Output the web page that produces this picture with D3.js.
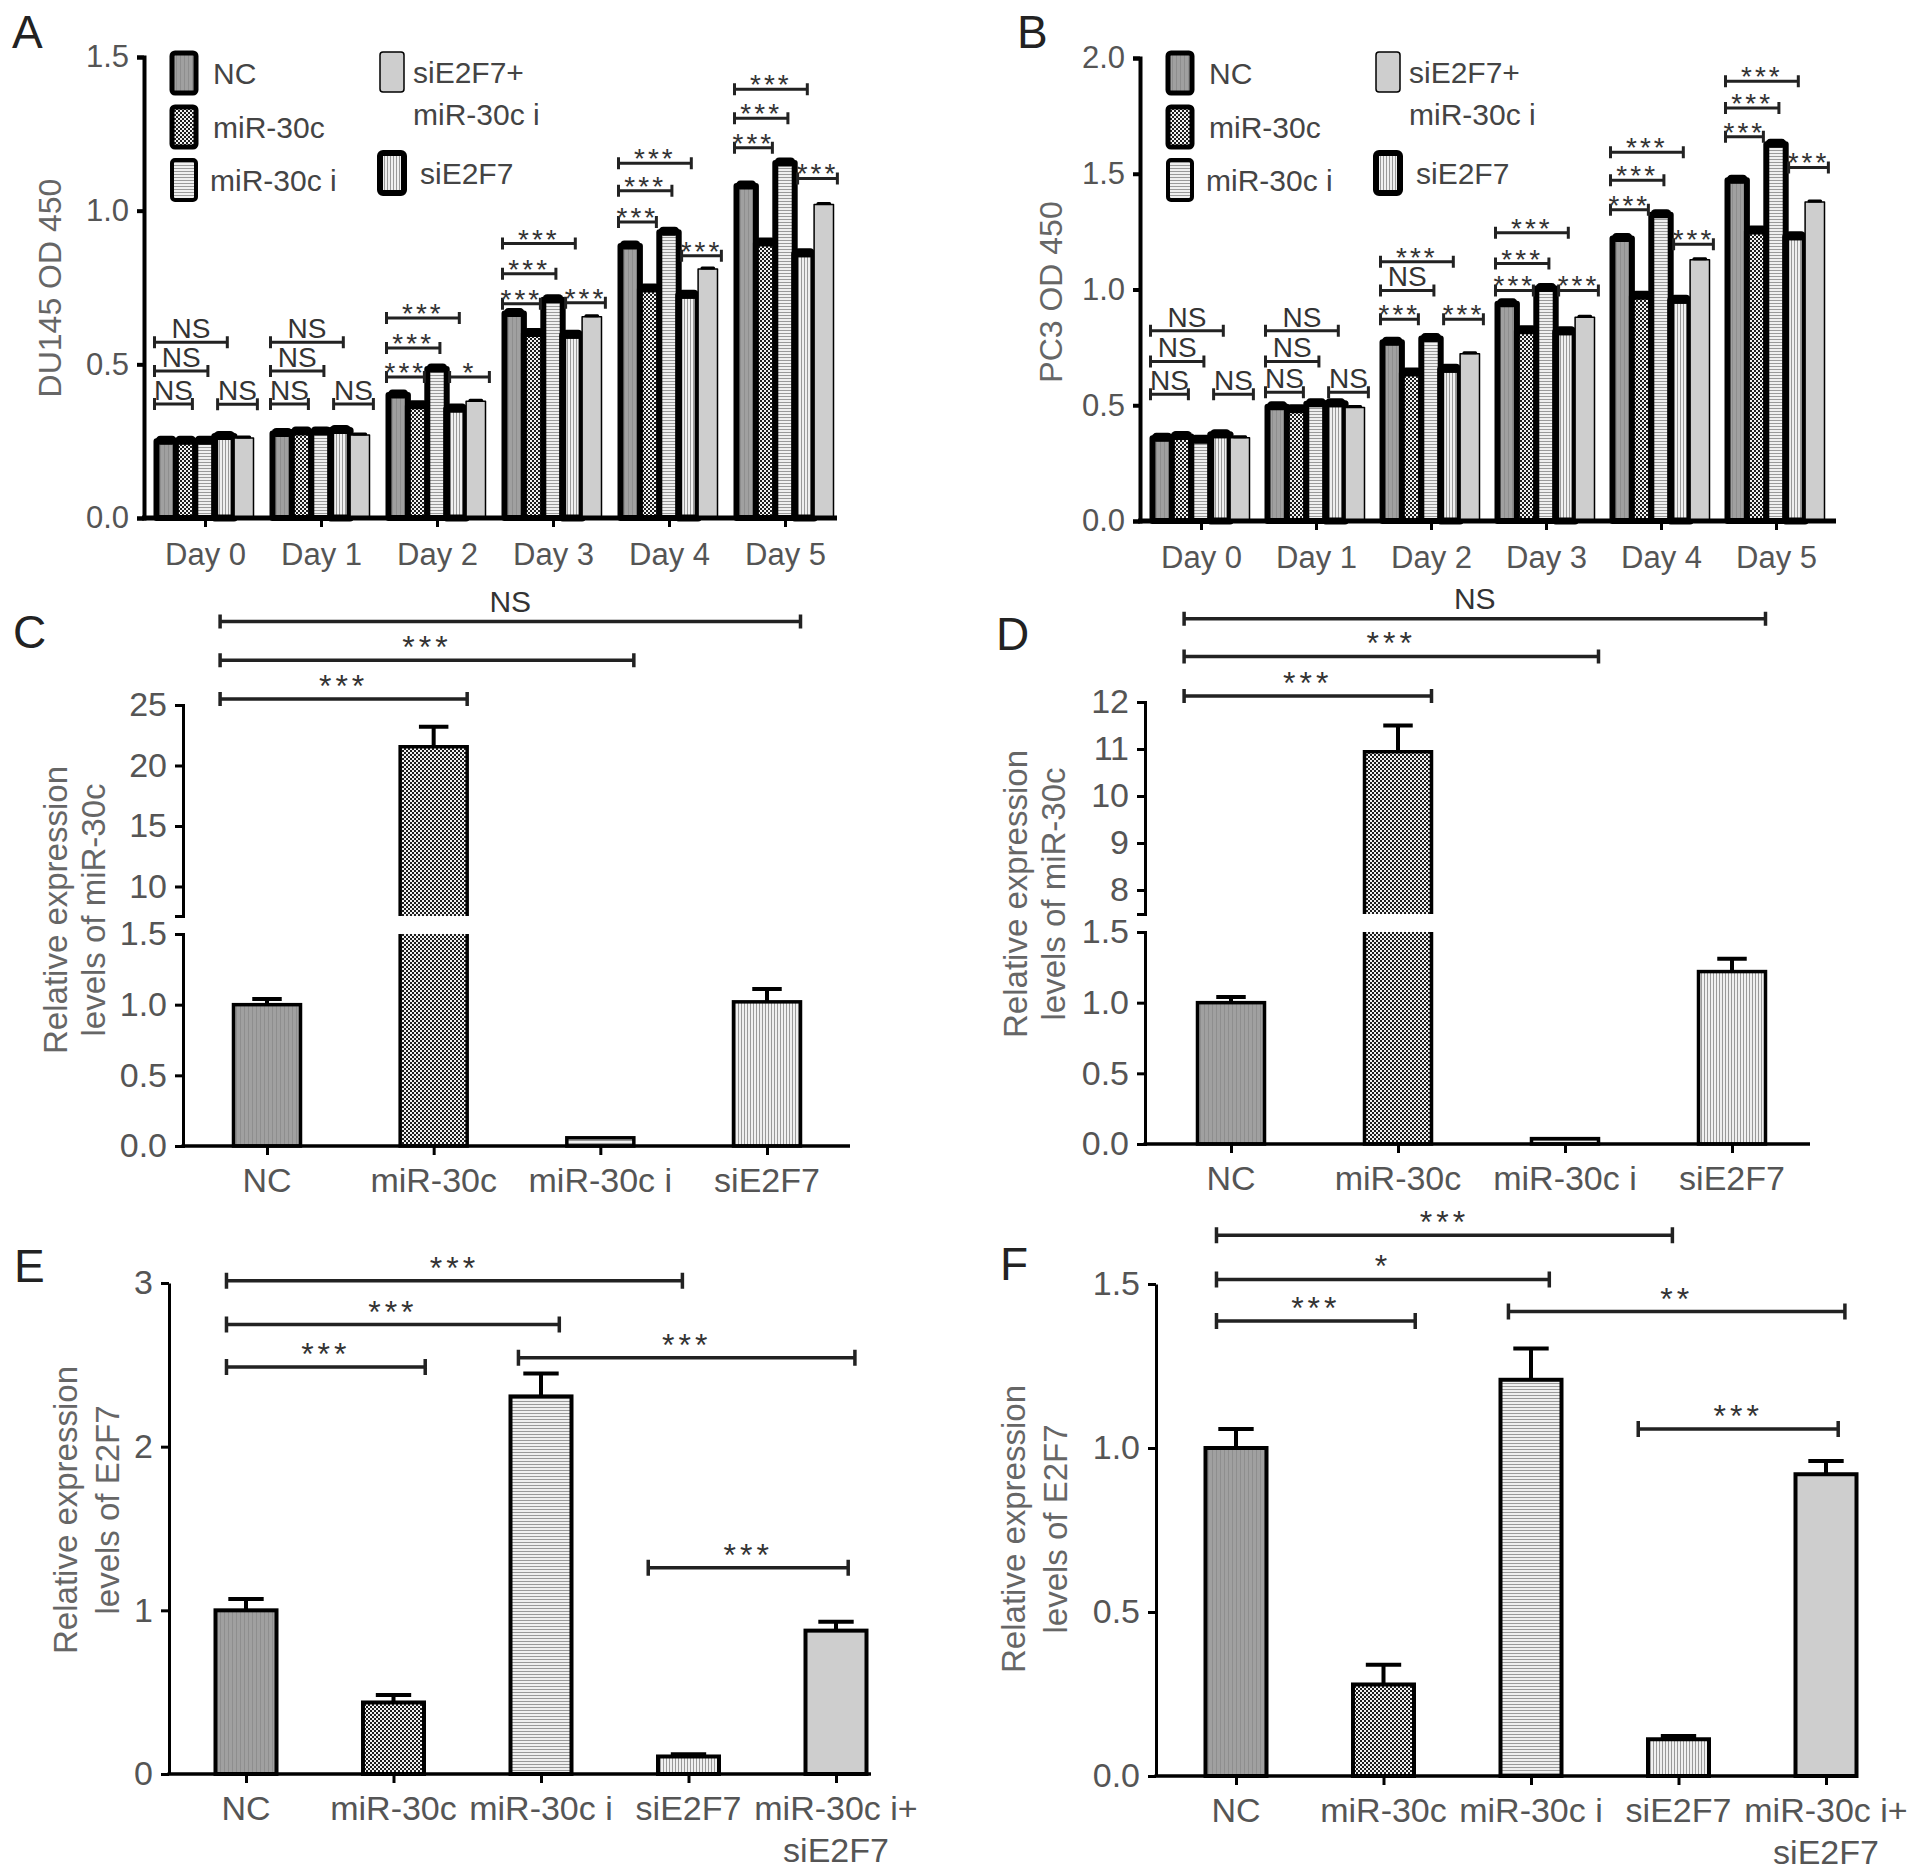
<!DOCTYPE html>
<html>
<head>
<meta charset="utf-8">
<script src="https://cdn.jsdelivr.net/npm/d3@7"></script>
<style>
  body { margin: 0; background: #fff; }
  text { font-family: "Liberation Sans", Arial, sans-serif; }
</style>
</head>
<body>
<svg id="fig"></svg>
<script>
// ---- data ----
const days = ["Day 0", "Day 1", "Day 2", "Day 3", "Day 4", "Day 5"];
const treatments = ["NC", "miR-30c", "miR-30c i", "siE2F7", "siE2F7+miR-30c i"];

// A: DU145 OD 450
const du145NC    = [0.25, 0.275, 0.40, 0.665, 0.885, 1.08];
const du145Mir   = [0.25, 0.28, 0.365, 0.60, 0.745, 0.895];
const du145Inh   = [0.25, 0.28, 0.485, 0.71, 0.93, 1.155];
const du145Si    = [0.265, 0.285, 0.355, 0.595, 0.725, 0.86];
const du145SiInh = [0.26, 0.27, 0.38, 0.655, 0.81, 1.02];
const du145BrLow  = [0.371, 0.371, 0.459, 0.697, 0.963, 1.205];
const du145BrMid  = [0.478, 0.478, 0.553, 0.795, 1.065, 1.301];
const du145BrTop  = [0.572, 0.572, 0.651, 0.893, 1.154, 1.395];
const du145BrLast = [0.370, 0.371, 0.459, 0.700, 0.853, 1.105];
const du145Sig = [["NS","NS","NS","NS"], ["NS","NS","NS","NS"], ["***","***","***","*"],
                  ["***","***","***","***"], ["***","***","***","***"], ["***","***","***","***"]];

// B: PC3 OD 450
const pc3NC    = [0.357, 0.493, 0.772, 0.938, 1.22, 1.472];
const pc3Mir   = [0.365, 0.481, 0.639, 0.822, 0.971, 1.253];
const pc3Inh   = [0.349, 0.506, 0.788, 1.004, 1.323, 1.627];
const pc3Si    = [0.373, 0.506, 0.656, 0.818, 0.954, 1.228];
const pc3SiInh = [0.36, 0.49, 0.722, 0.88, 1.129, 1.378];
const pc3BrLow  = [0.548, 0.556, 0.871, 0.996, 1.344, 1.66];
const pc3BrMid  = [0.689, 0.689, 0.996, 1.112, 1.472, 1.784];
const pc3BrTop  = [0.822, 0.822, 1.12, 1.245, 1.593, 1.90];
const pc3BrLast = [0.548, 0.556, 0.871, 0.996, 1.195, 1.527];
const pc3Sig = [["NS","NS","NS","NS"], ["NS","NS","NS","NS"], ["***","NS","***","***"],
                ["***","***","***","***"], ["***","***","***","***"], ["***","***","***","***"]];

// C, D: miR-30c levels
const mirCats = ["NC", "miR-30c", "miR-30c i", "siE2F7"];
const du145MirLevel = [1.0, 21.55, 0.058, 1.02];
const du145MirErr   = [0.04, 1.65, 0.0, 0.09];
const pc3MirLevel   = [1.0, 10.94, 0.038, 1.22];
const pc3MirErr     = [0.04, 0.56, 0.0, 0.09];
// brackets: [from, to, height (upper scale), label]
const du145MirBr = [[0, 1, 25.5, "***"], [0, 2, 28.7, "***"], [0, 3, 31.9, "NS"]];
const pc3MirBr   = [[0, 1, 12.13, "***"], [0, 2, 12.97, "***"], [0, 3, 13.77, "NS"]];

// E, F: E2F7 levels
const e2f7Cats = ["NC", "miR-30c", "miR-30c i", "siE2F7", "miR-30c i+|siE2F7"];
const du145E2f7    = [1.0, 0.437, 2.307, 0.107, 0.876];
const du145E2f7Err = [0.07, 0.045, 0.14, 0.013, 0.055];
const pc3E2f7      = [1.0, 0.279, 1.208, 0.112, 0.92];
const pc3E2f7Err   = [0.058, 0.06, 0.095, 0.01, 0.04];
const du145E2f7Br = [[0, 1, 2.487, "***"], [0, 2, 2.746, "***"], [0, 3, 3.013, "***"], [2, 4, 2.543, "***"], [3, 4, 1.26, "***"]];
const pc3E2f7Br   = [[0, 1, 1.387, "***"], [0, 2, 1.514, "*"], [0, 3, 1.649, "***"], [2, 4, 1.416, "**"], [3, 4, 1.058, "***"]];

// ---- setup ----
const W = 1913, H = 1874;
const svg = d3.select("#fig").attr("width", W).attr("height", H);
svg.append("rect").attr("width", W).attr("height", H).attr("fill", "#fff");
const defs = svg.append("defs");

function pattern(id, w, h, bg, marks) {
  const p = defs.append("pattern").attr("id", id)
    .attr("patternUnits", "userSpaceOnUse").attr("width", w).attr("height", h);
  p.append("rect").attr("width", w).attr("height", h).attr("fill", bg);
  marks.forEach(m => p.append("rect").attr("x", m[0]).attr("y", m[1])
    .attr("width", m[2]).attr("height", m[3]).attr("fill", m[4]));
}
pattern("pNC", 4, 4, "#a0a0a0", [[0, 0, 1, 4, "#8e8e8e"]]);
pattern("pChk", 4, 4, "#f2f2f2", [[0, 0, 2, 2, "#1e1e1e"], [2, 2, 2, 2, "#1e1e1e"]]);
pattern("pH", 4, 3, "#f0f0f0", [[0, 0, 4, 1, "#9a9a9a"]]);
pattern("pV", 3, 4, "#f0f0f0", [[0, 0, 1, 4, "#9a9a9a"]]);
const fills = ["url(#pNC)", "url(#pChk)", "url(#pH)", "url(#pV)", "#cecece"];

const tickCol = "#555", labCol = "#333";

function letter(ch, x, y) {
  svg.append("text").attr("x", x).attr("y", y).attr("font-size", 46)
    .attr("fill", "#222").text(ch);
}

function yTitle(lines, x, y, fs, gap) {
  const t = svg.append("text").attr("transform", `translate(${x},${y}) rotate(-90)`)
    .attr("text-anchor", "middle").attr("font-size", fs).attr("fill", "#666");
  lines.forEach((l, i) => t.append("tspan").attr("x", 0)
    .attr("dy", i === 0 ? (-(lines.length - 1) * gap / 2 + fs * 0.35) : gap).text(l));
}

function styleAxis(a, sw, fs) {
  a.select(".domain").attr("stroke", "#000").attr("stroke-width", sw);
  a.selectAll(".tick line").attr("stroke", "#000").attr("stroke-width", sw);
  a.selectAll(".tick text").attr("font-size", fs).attr("fill", tickCol)
    .attr("font-family", "Liberation Sans, Arial, sans-serif");
}

function bracket(g, x1, x2, y, label, o) {
  g.append("path")
    .attr("d", `M${x1},${y - o.tick}V${y + o.tick}M${x1},${y}H${x2}M${x2},${y - o.tick}V${y + o.tick}`)
    .attr("fill", "none").attr("stroke", "#222").attr("stroke-width", o.sw);
  const star = label.includes("*");
  g.append("text").attr("x", (x1 + x2) / 2)
    .attr("y", star ? y + o.starDy : y + o.nsDy)
    .attr("text-anchor", "middle").attr("font-size", star ? o.starFs : o.nsFs)
    .attr("letter-spacing", star ? o.starLs : 0)
    .attr("fill", labCol).text(label);
}

// ---- time course panels (A, B) ----
function timePanel(o) {
  const g = svg.append("g");
  const y = d3.scaleLinear().domain([0, o.yMax]).range([o.y0, o.yTop]);
  const x = d3.scalePoint().domain(days).range([o.c0, o.c1]);
  const inner = d3.scaleBand().domain(treatments).range([-o.gw / 2, o.gw / 2]);
  const bw = inner.bandwidth();
  const barSw = [6, 6, 6, 7, 1.5];

  o.series.forEach((vals, k) => {
    const t = treatments[k];
    g.selectAll(null).data(days).join("rect")
      .attr("x", d => x(d) + inner(t)).attr("width", bw)
      .attr("y", (d, i) => y(vals[i])).attr("height", (d, i) => o.y0 - y(vals[i]))
      .attr("fill", fills[k]).attr("stroke", "#000").attr("stroke-width", barSw[k])
      .attr("stroke-linejoin", "round");
    g.selectAll(null).data(days).join("line")
      .attr("x1", d => x(d) + inner(t) + bw * 0.2).attr("x2", d => x(d) + inner(t) + bw * 0.8)
      .attr("y1", (d, i) => y(vals[i]) - 1).attr("y2", (d, i) => y(vals[i]) - 1)
      .attr("stroke", "#000").attr("stroke-width", k === 4 ? 3 : 9).attr("stroke-linecap", "round");
  });

  // brackets
  const bo = { tick: 6, sw: 3, starDy: 5, nsDy: -4, starFs: 28, nsFs: 28, starLs: 3 };
  days.forEach((d, i) => {
    const c = j => x(d) + inner(treatments[j]) + bw / 2;
    const x0 = x(d) + inner(treatments[0]) - 2;
    bracket(g, x0, c(1) + bw * 0.35, y(o.brLow[i]), o.sig[i][0], bo);
    bracket(g, x0, c(2) + bw * 0.15, y(o.brMid[i]), o.sig[i][1], bo);
    bracket(g, x0, c(3) + bw * 0.15, y(o.brTop[i]), o.sig[i][2], bo);
    bracket(g, c(3) - bw * 0.35, c(4) + bw * 0.7, y(o.brLast[i]), o.sig[i][3], bo);
  });

  // axes
  const ya = g.append("g").attr("transform", `translate(${o.ax},0)`)
    .call(d3.axisLeft(y).tickValues(o.ticks).tickFormat(d3.format(".1f")).tickSize(7).tickPadding(8));
  styleAxis(ya, 4, 31);
  const xa = g.append("g").attr("transform", `translate(0,${o.y0})`)
    .call(d3.axisBottom(x).tickSize(9).tickPadding(16).tickSizeOuter(0));
  xa.select(".domain").remove();
  g.append("line").attr("x1", o.ax - 2).attr("x2", o.axEnd).attr("y1", o.y0).attr("y2", o.y0)
    .attr("stroke", "#000").attr("stroke-width", 5);
  styleAxis(xa, 3, 31);

  // legend
  const lg = g.append("g");
  const items = [
    [0, o.ax + 28, 53, ["NC"], 41],
    [1, o.ax + 28, 107, ["miR-30c"], 41],
    [2, o.ax + 28, 160, ["miR-30c i"], 38],
    [4, o.ax + 236, 52, ["siE2F7+", "miR-30c i"], 33],
    [3, o.ax + 236, 153, ["siE2F7"], 40]
  ];
  const legSw = [5, 5, 4, 6, 1.5];
  items.forEach(([k, lx, ly, lines, tx]) => {
    lg.append("rect").attr("x", lx).attr("y", ly).attr("width", 24).attr("height", 40)
      .attr("rx", 3).attr("fill", fills[k]).attr("stroke", "#000")
      .attr("stroke-width", legSw[k]);
    lines.forEach((l, j) => lg.append("text").attr("x", lx + tx).attr("y", ly + 31 + j * 42)
      .attr("font-size", 30).attr("fill", "#444").text(l));
  });

  yTitle([o.title], o.titleX, o.titleY, 32, 0);
}

timePanel({
  series: [du145NC, du145Mir, du145Inh, du145Si, du145SiInh],
  brLow: du145BrLow, brMid: du145BrMid, brTop: du145BrTop, brLast: du145BrLast, sig: du145Sig,
  yMax: 1.5, ticks: [0, 0.5, 1.0, 1.5], y0: 518, yTop: 57,
  ax: 144, axEnd: 837, c0: 205, c1: 785, gw: 97,
  title: "DU145 OD 450", titleX: 50, titleY: 288
});
timePanel({
  series: [pc3NC, pc3Mir, pc3Inh, pc3Si, pc3SiInh],
  brLow: pc3BrLow, brMid: pc3BrMid, brTop: pc3BrTop, brLast: pc3BrLast, sig: pc3Sig,
  yMax: 2.0, ticks: [0, 0.5, 1.0, 1.5, 2.0], y0: 521, yTop: 58,
  ax: 1140, axEnd: 1836, c0: 1201, c1: 1776, gw: 97,
  title: "PC3 OD 450", titleX: 1051, titleY: 292
});
letter("A", 12, 48);
letter("B", 1017, 48);

// ---- single bar panels helpers ----
function xLabels(g, x, cats, y0, fs, lineGap) {
  const xa = g.append("g").attr("transform", `translate(0,${y0})`)
    .call(d3.axisBottom(x).tickSize(9).tickSizeOuter(0).tickFormat(""));
  xa.select(".domain").remove();
  xa.selectAll(".tick line").attr("stroke", "#000").attr("stroke-width", 3);
  cats.forEach(c => {
    const t = g.append("text").attr("x", x(c)).attr("y", y0 + 46).attr("text-anchor", "middle")
      .attr("font-size", fs).attr("fill", tickCol);
    c.split("|").forEach((l, i) => t.append("tspan").attr("x", x(c)).attr("dy", i ? lineGap : 0).text(l));
  });
}

function errBar(g, cx, yv, ye, capW) {
  g.append("path").attr("d", `M${cx},${yv}V${ye}M${cx - capW / 2},${ye}H${cx + capW / 2}`)
    .attr("fill", "none").attr("stroke", "#000").attr("stroke-width", 4);
}

// ---- C, D: broken axis ----
function brokenPanel(o) {
  const g = svg.append("g");
  const x = d3.scalePoint().domain(mirCats).range([o.c0, o.c1]);
  const yL = d3.scaleLinear().domain([0, 1.5]).range([o.y0, o.yLTop]);
  const yU = d3.scaleLinear().domain([o.uMin, o.uMax]).range([o.yUBot, o.yUTop]);
  const bw = o.bw;

  mirCats.forEach((c, i) => {
    const v = o.vals[i], e = o.errs[i], l = x(c) - bw / 2, r = x(c) + bw / 2;
    if (v <= 1.5) {
      g.append("rect").attr("x", l).attr("y", yL(v)).attr("width", bw).attr("height", o.y0 - yL(v))
        .attr("fill", fills[i]).attr("stroke", "#000").attr("stroke-width", 3.5);
      if (e > 0) errBar(g, x(c), yL(v), yL(v + e), bw * 0.44);
    } else {
      g.append("rect").attr("x", l).attr("y", yL(1.5)).attr("width", bw).attr("height", o.y0 - yL(1.5))
        .attr("fill", fills[i]);
      g.append("path").attr("d", `M${l},${yL(1.5)}V${o.y0}H${r}V${yL(1.5)}`)
        .attr("fill", "none").attr("stroke", "#000").attr("stroke-width", 3.5);
      g.append("rect").attr("x", l).attr("y", yU(v)).attr("width", bw).attr("height", o.yUBot - yU(v))
        .attr("fill", fills[i]);
      g.append("path").attr("d", `M${l},${o.yUBot}V${yU(v)}H${r}V${o.yUBot}`)
        .attr("fill", "none").attr("stroke", "#000").attr("stroke-width", 3.5);
      errBar(g, x(c), yU(v), yU(v + e), bw * 0.44);
    }
  });

  const bo = { tick: 7, sw: 3.5, starDy: -2, nsDy: -10, starFs: 32, nsFs: 30, starLs: 4 };
  o.br.forEach(([a, b, h, lab]) => {
    bracket(g, x(mirCats[a]) - bw * 0.7, x(mirCats[b]) + bw * 0.5, yU(h), lab, bo);
  });

  const ua = g.append("g").attr("transform", `translate(${o.ax},0)`)
    .call(d3.axisLeft(yU).tickValues(o.uTicks).tickFormat(d3.format("d"))
      .tickSize(8).tickSizeOuter(8).tickPadding(8));
  styleAxis(ua, 3, 34);
  const la = g.append("g").attr("transform", `translate(${o.ax},0)`)
    .call(d3.axisLeft(yL).tickValues([0, 0.5, 1.0, 1.5]).tickFormat(d3.format(".1f"))
      .tickSize(8).tickSizeOuter(8).tickPadding(8));
  styleAxis(la, 3, 34);
  g.append("line").attr("x1", o.ax - 1.5).attr("x2", o.axEnd).attr("y1", o.y0).attr("y2", o.y0)
    .attr("stroke", "#000").attr("stroke-width", 3.5);
  xLabels(g, x, mirCats, o.y0, 34, 40);
  yTitle(["Relative expression", "levels of miR-30c"], o.titleX, o.titleY, 33, 38);
}

brokenPanel({
  vals: du145MirLevel, errs: du145MirErr, br: du145MirBr,
  ax: 183, axEnd: 850, c0: 267, c1: 767, bw: 67,
  y0: 1146, yLTop: 934, uMin: 7.56, uMax: 25, yUBot: 916, yUTop: 705, uTicks: [10, 15, 20, 25],
  titleX: 74, titleY: 910
});
brokenPanel({
  vals: pc3MirLevel, errs: pc3MirErr, br: pc3MirBr,
  ax: 1145, axEnd: 1810, c0: 1231, c1: 1732, bw: 67,
  y0: 1144, yLTop: 932, uMin: 7.49, uMax: 12, yUBot: 914, yUTop: 702, uTicks: [8, 9, 10, 11, 12],
  titleX: 1034, titleY: 894
});
letter("C", 13, 648);
letter("D", 996, 650);

// ---- E, F ----
function e2f7Panel(o) {
  const g = svg.append("g");
  const x = d3.scalePoint().domain(e2f7Cats).range([o.c0, o.c1]);
  const y = d3.scaleLinear().domain([0, o.yMax]).range([o.y0, o.yTop]);
  const bw = o.bw;

  g.selectAll(null).data(e2f7Cats).join("rect")
    .attr("x", d => x(d) - bw / 2).attr("width", bw)
    .attr("y", (d, i) => y(o.vals[i])).attr("height", (d, i) => o.y0 - y(o.vals[i]))
    .attr("fill", (d, i) => fills[i]).attr("stroke", "#000").attr("stroke-width", 4);
  e2f7Cats.forEach((c, i) => errBar(g, x(c), y(o.vals[i]), y(o.vals[i] + o.errs[i]), bw * 0.58));

  const offs = [[-0.32, 0.52], [-0.32, 0.3], [-0.32, -0.1], [-0.37, 0.31], [-0.66, 0.2]];
  const bo = { tick: 8, sw: 3.5, starDy: -2, nsDy: -10, starFs: 32, nsFs: 30, starLs: 4 };
  o.br.forEach(([a, b, h, lab], k) => {
    bracket(g, x(e2f7Cats[a]) + bw * offs[k][0], x(e2f7Cats[b]) + bw * offs[k][1], y(h), lab, bo);
  });

  const ya = g.append("g").attr("transform", `translate(${o.ax},0)`)
    .call(d3.axisLeft(y).tickValues(o.ticks).tickFormat(o.fmt).tickSize(8).tickSizeOuter(0).tickPadding(8));
  styleAxis(ya, 3, 34);
  g.append("line").attr("x1", o.ax - 1.5).attr("x2", o.axEnd).attr("y1", o.y0).attr("y2", o.y0)
    .attr("stroke", "#000").attr("stroke-width", 3.5);
  xLabels(g, x, e2f7Cats, o.y0, 34, 42);
  yTitle(["Relative expression", "levels of E2F7"], o.titleX, o.titleY, 33, 42);
}

e2f7Panel({
  vals: du145E2f7, errs: du145E2f7Err, br: du145E2f7Br,
  ax: 169, axEnd: 871, c0: 246, c1: 836, bw: 61,
  y0: 1774, yTop: 1283, yMax: 3, ticks: [0, 1, 2, 3], fmt: d3.format("d"),
  titleX: 86, titleY: 1510
});
e2f7Panel({
  vals: pc3E2f7, errs: pc3E2f7Err, br: pc3E2f7Br,
  ax: 1156, axEnd: 1856, c0: 1236, c1: 1826, bw: 61,
  y0: 1776, yTop: 1284, yMax: 1.5, ticks: [0, 0.5, 1.0, 1.5], fmt: d3.format(".1f"),
  titleX: 1034, titleY: 1529
});
letter("E", 14, 1282);
letter("F", 1000, 1280);
</script>
</body>
</html>
